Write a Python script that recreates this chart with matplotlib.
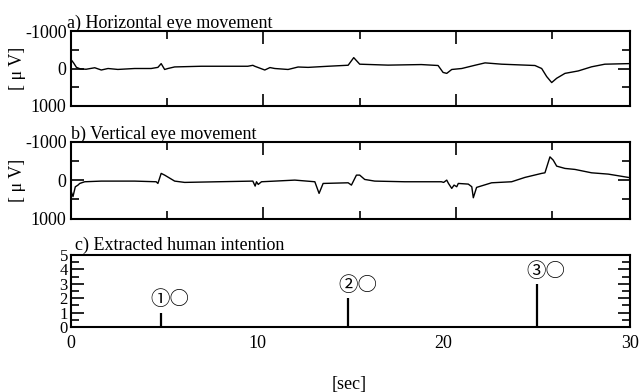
"""
Eye movement traces (EOG) and the extracted intention pulses, three stacked panels.
"""

import matplotlib
matplotlib.use("Agg")
import matplotlib.pyplot as plt
from matplotlib.ticker import MultipleLocator

plt.rcParams['font.family'] = ['Liberation Serif', 'Noto Sans CJK JP', 'DejaVu Sans']
plt.rcParams['axes.unicode_minus'] = False
plt.rcParams['font.size'] = 13

# a) horizontal eye movement (sec, micro volt)
horiz_t = [0.0, 0.15, 0.3, 0.5, 0.8, 1.25, 1.59, 1.94, 2.45, 3.32, 4.18, 4.53,
           4.70, 4.88, 5.05, 5.40, 6.78, 7.99, 9.20, 9.46, 9.56, 10.08, 10.35,
           10.60, 11.29, 11.81, 12.33, 13.37, 14.41, 14.70, 15.01, 16.48, 18.21,
           19.08, 19.34, 19.53, 19.79, 20.31, 21.0, 21.52, 22.38, 24.11, 24.46,
           24.72, 24.98, 25.24, 25.67, 26.36, 27.05, 27.74, 28.96]
horiz_v = [-250, -150, -30, 10, 20, -20, 40, 0, 25, 0, 0, -30,
           -130, 26, 0, -42, -60, -60, -60, -85, -60, 40, -25,
           0, 26, -40, -30, -60, -87, -290, -115, -90, -105,
           -80, 105, 130, 26, 0, -87, -150, -115, -80, 0,
           215, 375, 260, 130, 65, -45, -115, -130]

# b) vertical eye movement
vert_t = [0.03, 0.12, 0.24, 0.38, 0.47, 0.73, 1.59, 3.32, 4.44, 4.53, 4.70, 4.88,
          5.40, 5.92, 7.64, 9.46, 9.58, 9.65, 9.74, 9.91, 10.60, 11.64, 12.68,
          12.90, 13.11, 14.41, 14.58, 14.84, 15.01, 15.27, 15.79, 17.35, 19.25,
          19.37, 19.53, 19.62, 19.79, 19.91, 20.05, 20.13, 20.65, 20.83, 20.91,
          21.08, 21.86, 22.90, 23.59, 24.46, 24.63, 24.89, 25.06, 25.24, 25.67,
          26.19, 27.05, 27.92, 28.96]
vert_v = [300, 430, 175, 130, 87, 43, 26, 26, 43, 87, -175, -130,
          26, 60, 43, 26, 156, 43, 112, 43, 26, 0, 43,
          346, 87, 70, 130, -130, -130, -17, 26, 43, 43,
          60, 0, 87, 216, 130, 173, 87, 104, 173, 460,
          190, 70, 43, -70, -175, -190, -605, -520, -364, -304,
          -278, -190, -156, -70]

# c) extracted intention
intent_t = [4.85, 14.9, 25.0]
intent_level = [1, 2, 3]
intent_labels = ["①○", "②○", "③○"]

fig = plt.figure(figsize=(6.39, 3.92), dpi=100)
left, width = 0.1106, 0.8748
ax_a = fig.add_axes([left, 0.7296, width, 0.1913])
ax_b = fig.add_axes([left, 0.4426, width, 0.1959])
ax_c = fig.add_axes([left, 0.1658, width, 0.1837])


def style_eog(ax, title, title_x):
    ax.set_xlim(0, 29.03)
    ax.set_ylim(1000, -1000)
    ax.yaxis.set_major_locator(MultipleLocator(1000))
    ax.yaxis.set_minor_locator(MultipleLocator(500))
    ax.xaxis.set_major_locator(MultipleLocator(10))
    ax.xaxis.set_minor_locator(MultipleLocator(5))
    ax.tick_params(which='both', direction='in', top=True, right=True,
                   labelbottom=False, width=1.2, pad=3)
    ax.tick_params(which='major', length=9)
    ax.tick_params(which='minor', length=6)
    ax.set_yticks([-1000, 0, 1000])
    ax.set_yticklabels(["-1000", "0", "1000"])
    for s in ax.spines.values():
        s.set_linewidth(1.5)
    ax.text(title_x, 1.035, title, transform=ax.transAxes, ha='left',
            va='baseline', fontsize=13)
    ax.set_ylabel("[ μ V]", fontsize=13)
    ax.yaxis.set_label_coords(-0.08, 0.5)


ax_a.plot(horiz_t, horiz_v, color='black', lw=1.0)
style_eog(ax_a, "a) Horizontal eye movement", -0.007)

ax_b.plot(vert_t, vert_v, color='black', lw=1.0)
style_eog(ax_b, "b) Vertical eye movement", 0.0)

ax_c.vlines(intent_t, 0, intent_level, color='black', lw=1.6)
for t, h, lab in zip(intent_t, intent_level, intent_labels):
    ax_c.text(t - 0.55, h + 0.88, lab, ha='left', va='center', fontsize=14,
              family=['Noto Sans CJK JP', 'Liberation Serif'])
ax_c.set_xlim(0, 30)
ax_c.set_ylim(0, 5)
ax_c.xaxis.set_major_locator(MultipleLocator(10))
ax_c.yaxis.set_major_locator(MultipleLocator(1))
ax_c.yaxis.set_minor_locator(MultipleLocator(0.5))
ax_c.tick_params(axis='y', which='both', direction='in', right=True, width=1.2,
                 pad=2, labelsize=12)
ax_c.tick_params(axis='y', which='major', length=9)
ax_c.tick_params(axis='y', which='minor', length=6)
ax_c.tick_params(axis='x', length=0, pad=6)
for s in ax_c.spines.values():
    s.set_linewidth(1.5)
ax_c.text(0.007, 1.07, "c) Extracted human intention", transform=ax_c.transAxes,
          ha='left', va='baseline', fontsize=13)

fig.text(0.547, 0.02, "[sec]", ha='center', va='center', fontsize=13)

fig.savefig("out.png", dpi=100)
